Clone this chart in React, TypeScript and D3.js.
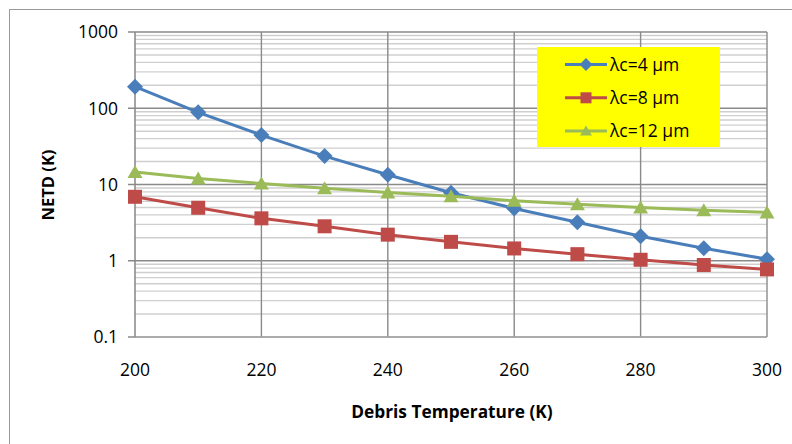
import React from "react";
import * as d3 from "d3";

const temps = [200, 210, 220, 230, 240, 250, 260, 270, 280, 290, 300];
const lc4 = [192, 88.5, 44.5, 23.6, 13.4, 7.8, 4.85, 3.2, 2.1, 1.46, 1.05];
const lc8 = [6.9, 4.95, 3.6, 2.83, 2.2, 1.77, 1.45, 1.22, 1.03, 0.88, 0.77];
const lc12 = [14.6, 12.0, 10.3, 8.9, 7.85, 7.0, 6.1, 5.5, 5.0, 4.6, 4.3];
const seriesNames = ["λc=4 µm", "λc=8 µm", "λc=12 µm"];
const yTicks = [0.1, 1, 10, 100, 1000];
const yTickLabels = ["0.1", "1", "10", "100", "1000"];
const xTicks = [200, 220, 240, 260, 280, 300];

const colors = ["#4A7EBB", "#BE4B48", "#9BBB59"];
const shapes = ["diamond", "square", "triangle"];
const FONT = "'Open Sans', 'DejaVu Sans', sans-serif";

function Marker({ shape, x, y, s, color }: { shape: string; x: number; y: number; s: number; color: string }) {
  if (shape === "diamond") {
    const h = s / 2 + 1;
    return <path d={`M${x},${y - h}L${x + h},${y}L${x},${y + h}L${x - h},${y}Z`} fill={color} />;
  }
  if (shape === "square") {
    const h = s / 2;
    return <rect x={x - h} y={y - h} width={s} height={s} fill={color} />;
  }
  const h = s / 2;
  return <path d={`M${x},${y - h}L${x + h + 0.5},${y + h - 1}L${x - h - 0.5},${y + h - 1}Z`} fill={color} />;
}

export default function App() {
  const x = d3.scaleLinear().domain([200, 300]).range([135, 767]);
  const y = d3.scaleLog().domain([0.1, 1000]).range([337, 32]);
  const series = [lc4, lc8, lc12];
  const line = d3
    .line<number>()
    .x((_, i) => x(temps[i]))
    .y((d) => y(d));

  const minor: number[] = [];
  for (let dec = 0.1; dec < 1000; dec *= 10) {
    for (let k = 2; k <= 9; k++) minor.push(dec * k);
  }

  return (
    <svg width={792} height={444} style={{ position: "absolute", left: 0, top: 0, background: "#fff" }}>
      <rect x={9.5} y={9.5} width={800} height={500} fill="#fff" stroke="#9a9a9a" strokeWidth={1} />
      {minor.map((v, i) => (
        <line key={"m" + i} x1={135} x2={767} y1={y(v)} y2={y(v)} stroke="#cfcfcf" strokeWidth={1.4} />
      ))}
      {yTicks.map((v, i) => (
        <line key={"M" + i} x1={128} x2={767} y1={y(v)} y2={y(v)} stroke="#8a8a8a" strokeWidth={1.4} />
      ))}
      {xTicks.slice(1).map((v, i) => (
        <line key={"v" + i} x1={x(v)} x2={x(v)} y1={32} y2={337} stroke="#8a8a8a" strokeWidth={1.4} />
      ))}
      <line x1={135} x2={135} y1={32} y2={337} stroke="#868686" strokeWidth={1.5} />
      <line x1={135} x2={767} y1={337} y2={337} stroke="#b0b0b0" strokeWidth={1} />
      {yTicks.map((v, i) => (
        <text key={"yt" + i} x={118} y={y(v)} dy="0.36em" textAnchor="end" fontFamily={FONT} fontSize={17.5} fill="#000">
          {yTickLabels[i]}
        </text>
      ))}
      {xTicks.map((v, i) => (
        <text key={"xt" + i} x={x(v)} y={376} textAnchor="middle" fontFamily={FONT} fontSize={17.5} fill="#000">
          {v}
        </text>
      ))}
      {series.map((s, si) => (
        <g key={"s" + si}>
          <path d={line(s) || ""} fill="none" stroke={colors[si]} strokeWidth={3} strokeLinejoin="round" />
          {s.map((v, i) => (
            <Marker key={i} shape={shapes[si]} x={x(temps[i])} y={y(v)} s={14} color={colors[si]} />
          ))}
        </g>
      ))}
      <rect x={537} y={47} width={183} height={100} fill="#FFFF00" />
      {seriesNames.map((n, i) => {
        const ly = 64.5 + i * 33.3;
        return (
          <g key={"l" + i}>
            <line x1={565} x2={607} y1={ly} y2={ly} stroke={colors[i]} strokeWidth={3} />
            <Marker shape={shapes[i]} x={586} y={ly} s={11} color={colors[i]} />
            <text x={610} y={ly} dy="0.36em" fontFamily={FONT} fontSize={17.5} fill="#000">
              {n}
            </text>
          </g>
        );
      })}
      <text x={452} y={418} textAnchor="middle" fontFamily={FONT} fontSize={17.3} fontWeight="bold" fill="#000">
        Debris Temperature (K)
      </text>
      <text
        transform="translate(54,185) rotate(-90)"
        textAnchor="middle"
        fontFamily={FONT}
        fontSize={16.5}
        fontWeight="bold"
        fill="#000"
      >
        NETD (K)
      </text>
    </svg>
  );
}
